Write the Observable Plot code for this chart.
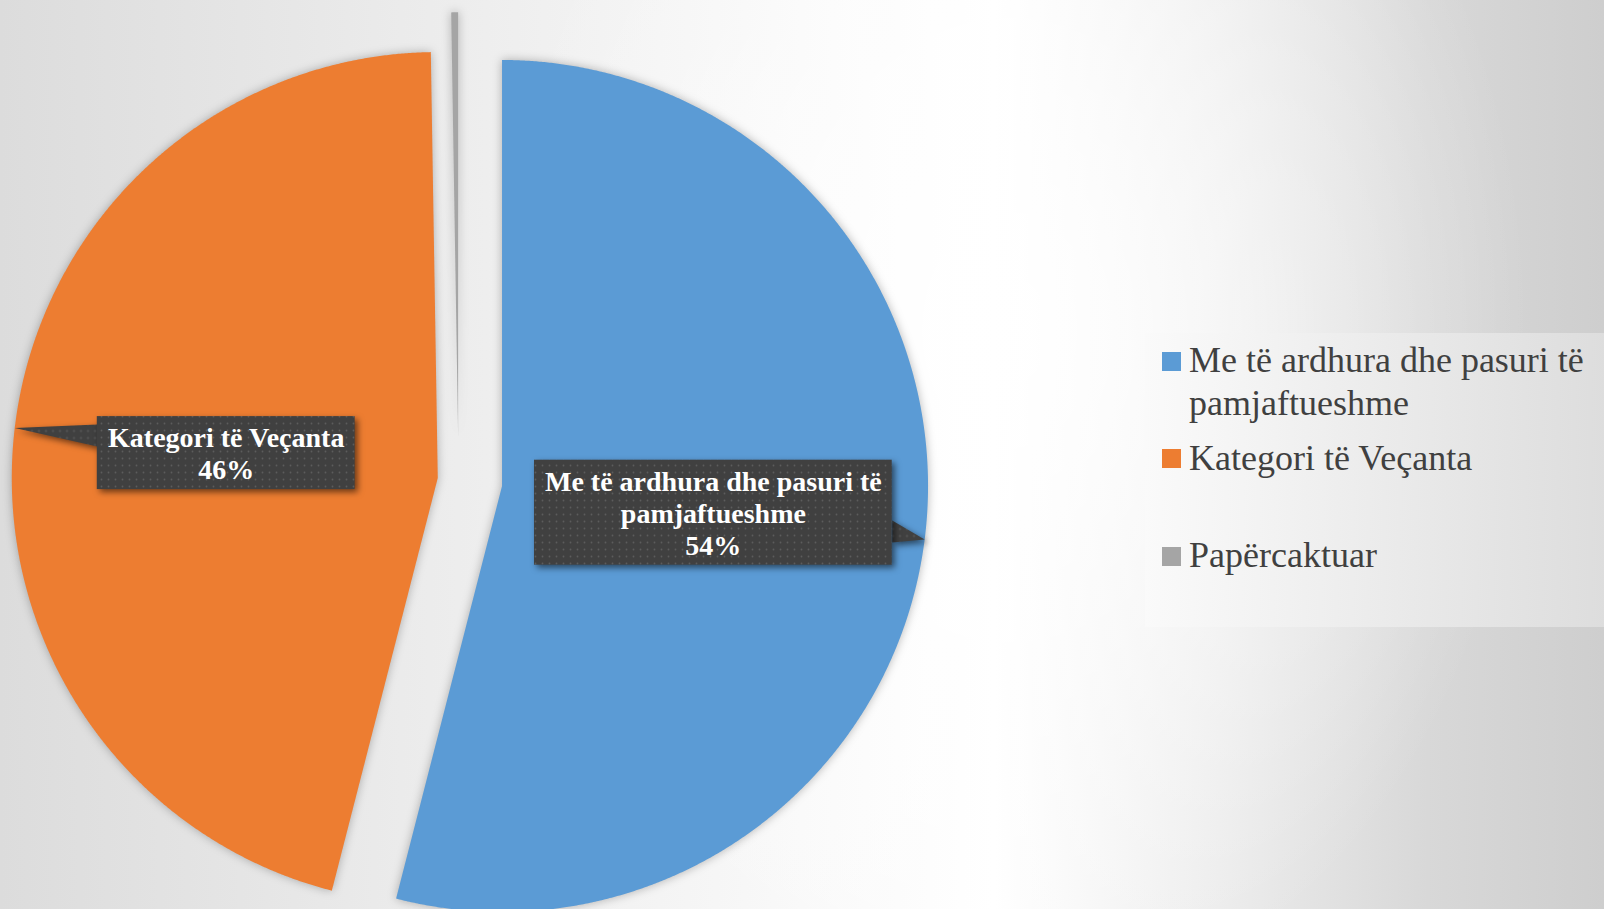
<!DOCTYPE html>
<html>
<head>
<meta charset="utf-8">
<script src="https://cdn.jsdelivr.net/npm/d3@7"></script>
<script src="https://cdn.jsdelivr.net/npm/@observablehq/plot@0.6"></script>
<style>
html, body { margin: 0; padding: 0; }
#wrap {
  position: relative; width: 1604px; height: 909px; overflow: hidden;
  background:
    radial-gradient(ellipse 520px 700px at 1010px 330px, rgba(255,255,255,0.9) 0%, rgba(255,255,255,0) 100%),
    linear-gradient(to right, #dcdcdc 0%, #ebebeb 25%, #f9f9f9 50%, #ffffff 62%, #ececec 76%, #d8d8d8 89%, #cecece 100%);
}
#chart { position: absolute; left: 0; top: 0; }
#legend {
  position: absolute; left: 1145px; top: 333px; width: 459px; height: 294px;
  background: linear-gradient(to right, rgba(250,250,250,0.95), rgba(222,222,222,0.95));
  font-family: "Liberation Serif", "Times New Roman", serif; font-size: 36px; color: #404040;
}
.item { position: absolute; left: 44px; width: 425px; line-height: 43px; }
.sw { position: absolute; left: -27px; top: 12.6px; width: 19px; height: 19px; }
</style>
</head>
<body>
<div id="wrap"><div id="chart"></div><div id="legend"></div></div>
<script>
// ---- data ----
const categories = ["Me të ardhura dhe pasuri të pamjaftueshme", "Kategori të Veçanta", "Papërcaktuar"];
const shares = [54.0, 45.74, 0.26];
const sliceColors = ["#5B9BD5", "#ED7D31", "#A5A5A5"];
const explode = [0.103, 0.049, 0.099];
const showLabel = [true, true, false];

// ---- layout ----
const W = 1604, H = 909;
const CX = 458, CY = 480, R = 426;          // pie centre & radius in pixels
const FONT = "Liberation Serif";
const LBL_SIZE = 28, LBL_LINE = 32, LBL_PAD = 10.5;

const ctx = document.createElement("canvas").getContext("2d");
ctx.font = `bold ${LBL_SIZE}px "${FONT}"`;
function wrap(text, maxW) {
  const words = text.split(" "); const lines = []; let cur = "";
  for (const w of words) {
    const t = cur ? cur + " " + w : w;
    if (ctx.measureText(t).width > maxW && cur) { lines.push(cur); cur = w; } else cur = t;
  }
  if (cur) lines.push(cur);
  return lines;
}

const arcs = d3.pie().sort(null).value(d => d)(shares);
const slicePts = [];
const labels = [];
const pointers = [];
arcs.forEach((a, i) => {
  const mid = (a.startAngle + a.endAngle) / 2;
  const ox = explode[i] * Math.sin(mid), oy = explode[i] * Math.cos(mid);
  const pts = [{x: ox, y: oy}];
  const n = Math.max(2, Math.ceil((a.endAngle - a.startAngle) / 0.004));
  for (let k = 0; k <= n; k++) {
    const t = a.startAngle + (a.endAngle - a.startAngle) * k / n;
    pts.push({x: ox + Math.sin(t), y: oy + Math.cos(t)});
  }
  pts.push({x: ox, y: oy});
  pts.forEach(p => slicePts.push({...p, cat: categories[i]}));

  if (showLabel[i]) {
    const cx = ox + 0.5 * Math.sin(mid), cy = oy + 0.5 * Math.cos(mid);
    const tx = ox + Math.sin(mid), ty = oy + Math.cos(mid);
    const lines = wrap(categories[i], 355);
    lines.push(Math.round(shares[i]) + "%");
    const tw = Math.max(...lines.map(l => ctx.measureText(l).width));
    const w = (tw + 2 * LBL_PAD) / R, h = (lines.length * LBL_LINE + 9) / R;
    const box = {cx, cy, x1: cx - w / 2, x2: cx + w / 2, y1: cy - h / 2, y2: cy + h / 2, text: lines.join("\n"), cat: categories[i]};
    labels.push(box);
    const ex = tx > cx ? box.x2 : box.x1;
    let by = ty + 0.3 * (cy - ty);
    const hl = 11 / R;
    by = Math.min(box.y2 - hl, Math.max(box.y1 + hl, by));
    [{x: ex, y: by + hl}, {x: tx, y: ty}, {x: ex, y: by - hl}, {x: ex, y: by + hl}]
      .forEach(p => pointers.push({...p, cat: categories[i]}));
  }
});

const chart = Plot.plot({
  width: W, height: H, margin: 0,
  style: {background: "transparent", overflow: "hidden"},
  x: {domain: [-1, 1], range: [CX - R, CX + R], axis: null},
  y: {domain: [-1, 1], range: [CY + R, CY - R], axis: null},
  color: {domain: categories, range: sliceColors},
  marks: [
    Plot.line(slicePts, {x: "x", y: "y", z: "cat", fill: "cat", stroke: "none", curve: "linear"}),
    Plot.line(pointers, {x: "x", y: "y", z: "cat", fill: "#404040", stroke: "none", curve: "linear"}),
    Plot.rect(labels, {x1: "x1", x2: "x2", y1: "y1", y2: "y2", fill: "#404040"}),
    Plot.text(labels, {x: "cx", y: "cy", text: "text", fill: "white", fontSize: LBL_SIZE, fontWeight: "bold",
      fontFamily: FONT, lineHeight: LBL_LINE / LBL_SIZE, lineAnchor: "middle", textAnchor: "middle"})
  ]
});
document.getElementById("chart").appendChild(chart);

// dotted texture + shadows
const svg = d3.select(chart);
const groups = Array.from(chart.querySelectorAll(":scope > g"));
const [gSlices, gPointer, gBox] = groups;
const defs = svg.insert("defs", ":first-child");
const pat = defs.append("pattern").attr("id", "dots").attr("width", 7).attr("height", 7).attr("patternUnits", "userSpaceOnUse");
pat.append("rect").attr("width", 7).attr("height", 7).attr("fill", "#404040");
pat.append("circle").attr("cx", 3.5).attr("cy", 3.5).attr("r", 0.9).attr("fill", "#5c5c5c");
if (gBox) d3.select(gBox).selectAll("rect").attr("fill", "url(#dots)").style("filter", "drop-shadow(3px 3px 3px rgba(0,0,0,0.55))");
if (gPointer) d3.select(gPointer).selectAll("path").attr("fill", "url(#dots)").style("filter", "drop-shadow(3px 3px 3px rgba(0,0,0,0.55))");
if (gSlices) d3.select(gSlices).style("filter", "drop-shadow(0px 0px 5px rgba(0,0,0,0.28))");

// legend
const legend = d3.select("#legend");
categories.forEach((c, i) => {
  const it = legend.append("div").attr("class", "item").style("top", (6.4 + i * 97.5) + "px");
  it.append("div").attr("class", "sw").style("background", sliceColors[i]);
  it.append("span").text(c);
});
</script>
</body>
</html>
